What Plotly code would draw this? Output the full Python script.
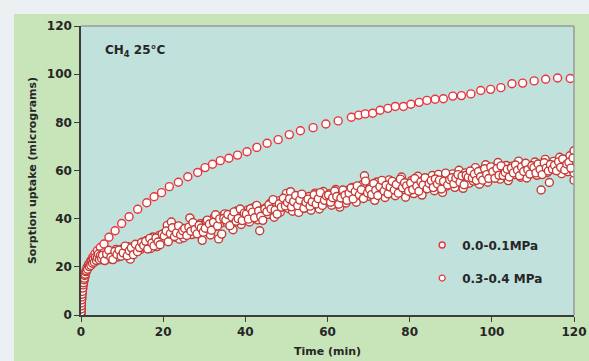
import plotly.graph_objects as go

# Series 1: 0.0-0.1 MPa
t1 = [0, 0.05, 0.1, 0.2, 0.3, 0.45, 0.6, 0.8, 1.0, 1.3, 1.6, 2.0, 2.4, 2.9, 3.4, 4.0, 4.7,
      5.6, 6.8, 8.3, 9.9, 11.7, 13.8, 16.0, 17.8, 19.6, 21.5, 23.7, 26.0, 28.4, 30.2, 32.0,
      33.9, 36.0, 38.1, 40.4, 42.8, 45.3, 48.0, 50.7, 53.4, 56.5, 59.6, 62.6, 65.8, 67.6,
      69.2, 71.0, 72.8, 74.7, 76.5, 78.5, 80.3, 82.3, 84.2, 86.2, 88.2, 90.5, 92.6, 94.9,
      97.3, 99.7, 102.2, 104.9, 107.5, 110.3, 113.1, 116.0, 119.1]
y1 = [0.5, 2.5, 4.5, 7.0, 9.0, 11.0, 12.8, 14.5, 16.0, 18.0, 19.5, 21.2, 22.6, 24.1, 25.4, 26.8, 28.0,
      29.5, 32.3, 35.0, 38.0, 40.8, 43.9, 46.6, 49.1, 50.8, 53.3, 55.1, 57.4, 59.2, 61.2, 62.6,
      64.1, 65.1, 66.4, 67.8, 69.6, 71.3, 72.8, 74.9, 76.5, 77.8, 79.3, 80.6, 82.1, 83.0,
      83.5, 83.8, 85.0, 85.8, 86.6, 86.6, 87.5, 88.3, 89.1, 89.6, 89.8, 90.9, 91.1, 91.8,
      93.2, 93.7, 94.4, 96.0, 96.3, 97.2, 97.9, 98.4, 98.2]

# Series 2: 0.3-0.4 MPa
t2_early = [0, 0, 0, 0.02, 0.05, 0.08, 0.1, 0.15, 0.2, 0.25, 0.3, 0.4, 0.5, 0.6, 0.7, 0.8, 0.9,
            1.0, 1.15, 1.3, 1.45, 1.6, 1.8, 2.0, 2.2, 2.4, 2.6, 2.8, 3.0, 3.25, 3.5, 3.75,
            4.0, 4.25, 4.5, 4.75]
y2_early = [0.0, 1.5, 2.7, 1.2, 2.5, 3.8, 5.0, 6.3, 7.5, 8.6, 9.8, 11.2, 12.5, 13.4, 14.6, 15.3, 16.4,
            16.9, 18.0, 18.4, 19.6, 19.0, 20.8, 20.1, 21.7, 20.6, 22.4, 21.5, 23.1, 21.9, 24.0, 22.6,
            23.8, 25.3, 22.9, 24.7]

t2_main = [5.0, 5.5, 6.0, 6.5, 7.0, 7.5, 8.0, 8.5, 9.0, 9.5,
           10.0, 10.5, 11.0, 11.5, 12.0, 12.5, 13.0, 13.5, 14.0, 14.5,
           15.0, 15.5, 16.0, 16.5, 17.0, 17.5, 18.0, 18.5, 19.0, 19.5,
           20.0, 20.5, 21.0, 21.5, 22.0, 22.5, 23.0, 23.5, 24.0, 24.5,
           25.0, 25.5, 26.0, 26.5, 27.0, 27.5, 28.0, 28.5, 29.0, 29.5,
           30.0, 30.5, 31.0, 31.5, 32.0, 32.5, 33.0, 33.5, 34.0, 34.5,
           35.0, 35.5, 36.0, 36.5, 37.0, 37.5, 38.0, 38.5, 39.0, 39.5,
           40.0, 40.5, 41.0, 41.5, 42.0, 42.5, 43.0, 43.5, 44.0, 44.5,
           45.0, 45.5, 46.0, 46.5, 47.0, 47.5, 48.0, 48.5, 49.0, 49.5,
           50.0, 50.5, 51.0, 51.5, 52.0, 52.5, 53.0, 53.5, 54.0, 54.5,
           55.0, 55.5, 56.0, 56.5, 57.0, 57.5, 58.0, 58.5, 59.0, 59.5,
           60.0, 60.5, 61.0, 61.5, 62.0, 62.5, 63.0, 63.5, 64.0, 64.5,
           65.0, 65.5, 66.0, 66.5, 67.0, 67.5, 68.0, 68.5, 69.0, 69.5,
           70.0, 70.5, 71.0, 71.5, 72.0, 72.5, 73.0, 73.5, 74.0, 74.5,
           75.0, 75.5, 76.0, 76.5, 77.0, 77.5, 78.0, 78.5, 79.0, 79.5,
           80.0, 80.5, 81.0, 81.5, 82.0, 82.5, 83.0, 83.5, 84.0, 84.5,
           85.0, 85.5, 86.0, 86.5, 87.0, 87.5, 88.0, 88.5, 89.0, 89.5,
           90.0, 90.5, 91.0, 91.5, 92.0, 92.5, 93.0, 93.5, 94.0, 94.5,
           95.0, 95.5, 96.0, 96.5, 97.0, 97.5, 98.0, 98.5, 99.0, 99.5,
           100.0, 100.5, 101.0, 101.5, 102.0, 102.5, 103.0, 103.5, 104.0, 104.5,
           105.0, 105.5, 106.0, 106.5, 107.0, 107.5, 108.0, 108.5, 109.0, 109.5,
           110.0, 110.5, 111.0, 111.5, 112.0, 112.5, 113.0, 113.5, 114.0, 114.5,
           115.0, 115.5, 116.0, 116.5, 117.0, 117.5, 118.0, 118.5, 119.0, 119.5,
           119.8, 120.0, 120.0, 120.0, 120.0]
y2_main = [23.5, 25.8, 22.9, 24.6, 26.1, 23.2, 25.0, 27.2, 24.1, 25.6,
           27.3, 24.9, 26.0, 28.4, 23.2, 25.5, 27.8, 26.9, 29.1, 27.2,
           30.2, 28.1, 31.0, 29.5, 27.6, 32.4, 30.8, 28.4, 33.0, 31.2,
           33.6, 31.0, 37.2, 34.5, 38.6, 35.1, 32.3, 33.0, 31.5, 36.0,
           32.1, 35.6, 34.3, 40.3, 33.4, 36.8, 37.5, 35.2, 37.9, 31.0,
           37.4, 38.9, 35.8, 33.2, 39.6, 40.8, 36.9, 31.6, 38.1, 41.2,
           42.0, 38.3, 40.5, 39.1, 35.4, 41.6, 43.3, 39.8, 37.6, 41.0,
           40.2, 43.5, 38.6, 42.1, 44.6, 41.3, 39.5, 35.0, 43.8, 42.4,
           44.5, 41.8, 46.3, 43.0, 40.6, 45.2, 47.4, 42.7, 44.9, 46.8,
           50.5, 44.2, 51.2, 43.1, 46.0, 48.9, 42.6, 45.8, 47.3, 44.5,
           45.9, 49.2, 43.5, 47.8, 50.6, 46.4, 44.0, 48.7, 51.3, 46.9,
           47.2, 50.4, 45.6, 49.0, 52.1, 47.9, 44.8, 50.9, 48.3, 46.5,
           51.8, 48.6, 53.0, 49.4, 46.8, 52.5, 50.1, 54.2, 57.8, 51.0,
           49.3, 53.8, 51.0, 47.6, 55.2, 52.4, 50.2, 54.0, 48.8, 52.9,
           56.1, 50.7, 53.4, 49.5, 54.8, 52.0, 57.3, 51.2, 48.9, 54.5,
           52.6, 55.9, 50.4, 54.1, 57.6, 53.0, 49.8, 56.3, 52.8, 55.4,
           53.7, 57.9, 51.6, 55.0, 58.4, 54.2, 50.9, 56.8, 53.5, 57.1,
           55.2, 58.6, 53.0, 57.4, 60.1, 55.8, 52.6, 59.0, 56.3, 54.7,
           58.9, 55.6, 61.2, 57.0, 54.3, 60.0, 57.8, 62.4, 55.1, 59.3,
           57.6, 61.0, 58.2, 63.3, 56.4, 60.2, 58.9, 62.1, 55.8, 59.7,
           61.8, 58.3, 60.6, 63.9, 57.2, 59.9, 62.6, 56.9, 61.3, 58.8,
           60.4, 63.5, 58.0, 61.9, 51.9, 60.7, 64.6, 59.2, 55.0, 62.3,
           63.8, 60.1, 62.9, 65.5, 58.7, 61.6, 64.0, 59.5, 66.1, 62.4,
           60.0, 68.2, 56.0, 64.5, 59.0]

t2_mid = [5.25, 5.75, 6.25, 6.75, 7.25, 7.75, 8.25, 8.75, 9.25, 9.75,
          10.25, 10.75, 11.25, 11.75, 12.25, 12.75, 13.25, 13.75, 14.25, 14.75,
          15.25, 15.75, 16.25, 16.75, 17.25, 17.75, 18.25, 18.75, 19.25, 19.75,
          20.25, 20.75, 21.25, 21.75, 22.25, 22.75, 23.25, 23.75, 24.25, 24.75,
          25.25, 25.75, 26.25, 26.75, 27.25, 27.75, 28.25, 28.75, 29.25, 29.75,
          30.25, 30.75, 31.25, 31.75, 32.25, 32.75, 33.25, 33.75, 34.25, 34.75,
          35.25, 35.75, 36.25, 36.75, 37.25, 37.75, 38.25, 38.75, 39.25, 39.75,
          40.25, 40.75, 41.25, 41.75, 42.25, 42.75, 43.25, 43.75, 44.25, 44.75,
          45.25, 45.75, 46.25, 46.75, 47.25, 47.75, 48.25, 48.75, 49.25, 49.75,
          50.25, 50.75, 51.25, 51.75, 52.25, 52.75, 53.25, 53.75, 54.25, 54.75,
          55.25, 55.75, 56.25, 56.75, 57.25, 57.75, 58.25, 58.75, 59.25, 59.75,
          60.25, 60.75, 61.25, 61.75, 62.25, 62.75, 63.25, 63.75, 64.25, 64.75,
          65.25, 65.75, 66.25, 66.75, 67.25, 67.75, 68.25, 68.75, 69.25, 69.75,
          70.25, 70.75, 71.25, 71.75, 72.25, 72.75, 73.25, 73.75, 74.25, 74.75,
          75.25, 75.75, 76.25, 76.75, 77.25, 77.75, 78.25, 78.75, 79.25, 79.75,
          80.25, 80.75, 81.25, 81.75, 82.25, 82.75, 83.25, 83.75, 84.25, 84.75,
          85.25, 85.75, 86.25, 86.75, 87.25, 87.75, 88.25, 88.75, 89.25, 89.75,
          90.25, 90.75, 91.25, 91.75, 92.25, 92.75, 93.25, 93.75, 94.25, 94.75,
          95.25, 95.75, 96.25, 96.75, 97.25, 97.75, 98.25, 98.75, 99.25, 99.75,
          100.25, 100.75, 101.25, 101.75, 102.25, 102.75, 103.25, 103.75, 104.25, 104.75,
          105.25, 105.75, 106.25, 106.75, 107.25, 107.75, 108.25, 108.75, 109.25, 109.75,
          110.25, 110.75, 111.25, 111.75, 112.25, 112.75, 113.25, 113.75, 114.25, 114.75,
          115.25, 115.75, 116.25, 116.75, 117.25, 117.75, 118.25, 118.75, 119.25, 119.75]
y2_mid = [24.8, 22.6, 25.3, 26.9, 24.0, 23.0, 26.4, 25.1, 27.0, 24.4,
          25.8, 28.6, 24.6, 26.7, 27.9, 25.0, 29.4, 26.3, 28.0, 30.1,
          28.9, 30.6, 27.4, 31.8, 29.9, 28.7, 32.0, 30.3, 29.2, 33.5,
          32.8, 34.9, 30.4, 33.8, 36.2, 32.6, 34.1, 37.0, 33.3, 35.0,
          35.9, 33.0, 36.5, 34.8, 38.4, 35.5, 33.7, 37.2, 36.1, 34.4,
          36.0, 39.4, 37.8, 35.2, 38.5, 41.6, 37.0, 39.9, 33.6, 40.1,
          39.4, 41.7, 37.1, 40.6, 42.8, 38.9, 40.0, 44.0, 39.2, 42.3,
          41.9, 39.8, 44.1, 42.7, 40.4, 45.5, 43.2, 41.0, 39.3, 44.0,
          42.9, 45.8, 44.0, 47.9, 43.6, 41.9, 46.2, 44.8, 48.5, 45.3,
          46.7, 48.2, 44.9, 47.1, 49.6, 45.4, 47.7, 50.2, 44.3, 46.8,
          48.1, 45.2, 47.0, 49.9, 46.1, 48.3, 50.8, 45.5, 47.6, 49.4,
          49.8, 46.8, 48.7, 51.5, 49.2, 46.0, 48.6, 51.9, 49.7, 47.6,
          50.6, 52.7, 48.2, 51.3, 53.6, 49.9, 52.0, 48.4, 55.6, 50.7,
          52.2, 50.0, 54.6, 51.8, 49.6, 53.3, 55.9, 51.5, 53.9, 50.3,
          53.1, 55.5, 51.9, 54.2, 50.6, 56.4, 52.8, 54.9, 53.6, 51.4,
          54.8, 52.0, 56.7, 53.5, 51.4, 55.3, 54.0, 57.0, 52.4, 54.6,
          55.8, 52.9, 56.5, 54.4, 56.0, 52.3, 55.5, 58.9, 54.0, 56.2,
          57.0, 54.5, 56.8, 58.3, 55.1, 57.7, 54.1, 58.0, 57.2, 59.8,
          56.9, 58.5, 55.9, 59.6, 57.4, 56.0, 60.7, 58.3, 56.7, 61.5,
          59.5, 56.8, 60.8, 58.0, 61.9, 57.9, 59.2, 60.5, 57.3, 61.0,
          59.0, 62.3, 60.1, 57.8, 61.5, 59.6, 63.0, 60.3, 58.5, 62.0,
          61.2, 59.0, 62.7, 60.4, 58.3, 63.2, 61.0, 59.8, 62.5, 60.6,
          62.2, 59.9, 63.6, 61.3, 64.8, 60.2, 62.7, 63.4, 61.0, 65.2]

t2 = t2_early + t2_main + t2_mid
y2 = y2_early + y2_main + y2_mid

x_ticks = [0, 20, 40, 60, 80, 100, 120]
y_ticks = [0, 20, 40, 60, 80, 100, 120]

FONT = "Verdana, DejaVu Sans, sans-serif"
TXT = "#262626"
C1 = "#e8343c"
C2 = "#c53a35"

fig = go.Figure()
fig.add_trace(go.Scatter(
    x=t1, y=y1, mode="markers", name="0.0-0.1MPa", showlegend=False,
    marker=dict(symbol="circle", size=8, color="white", line=dict(color=C1, width=1.4)),
))
fig.add_trace(go.Scatter(
    x=t2, y=y2, mode="markers", name="0.3-0.4 MPa", showlegend=False,
    marker=dict(symbol="circle", size=8, color="white", line=dict(color=C2, width=1.4)),
))
# legend entries (smaller symbols, as in the reference legend)
fig.add_trace(go.Scatter(
    x=[None], y=[None], mode="markers", name="0.0-0.1MPa", legendgroup="a",
    marker=dict(symbol="circle", size=6, color="white", line=dict(color=C1, width=1.4)),
))
fig.add_trace(go.Scatter(
    x=[None], y=[None], mode="markers", name="0.3-0.4 MPa", legendgroup="b",
    marker=dict(symbol="circle", size=6, color="white", line=dict(color=C1, width=1.2)),
))

fig.update_layout(
    width=589, height=361,
    margin=dict(l=81, r=15, t=26, b=46),
    paper_bgcolor="#c8e4b9",
    plot_bgcolor="#c1e1dd",
    font=dict(family=FONT, size=12, color=TXT),
    showlegend=True,
    legend=dict(
        x=0.692, y=0.185, xanchor="left", yanchor="middle",
        bgcolor="rgba(0,0,0,0)", borderwidth=0,
        font=dict(family=FONT, size=12, color=TXT, weight="bold"),
        tracegroupgap=14, itemwidth=30,
    ),
    xaxis=dict(
        range=[0, 120], tickvals=x_ticks, ticktext=[str(v) for v in x_ticks],
        showgrid=False, zeroline=False, automargin=False,
        showline=True, linecolor="#3d3d3d", linewidth=1.5,
        ticks="outside", ticklen=5, tickwidth=1, tickcolor="#3d3d3d",
        tickfont=dict(family=FONT, size=12, color=TXT, weight="bold"),
        title=dict(text="Time (min)", standoff=9,
                   font=dict(family=FONT, size=11, color=TXT, weight="bold")),
    ),
    yaxis=dict(
        range=[0, 120], tickvals=y_ticks, ticktext=[str(v) for v in y_ticks],
        showgrid=False, zeroline=False, automargin=False,
        showline=True, linecolor="#3d3d3d", linewidth=1.5,
        ticks="outside", ticklen=5, tickwidth=1, tickcolor="#3d3d3d",
        tickfont=dict(family=FONT, size=12, color=TXT, weight="bold"),
        title=dict(text="Sorption uptake (micrograms)", standoff=8,
                   font=dict(family=FONT, size=11, color=TXT, weight="bold")),
    ),
    shapes=[
        dict(type="rect", xref="paper", yref="paper", x0=-0.2, x1=1.1, y0=1.0 + 12 / 289, y1=1.2,
             fillcolor="#edf0f2", line=dict(width=0), layer="above"),
        dict(type="rect", xref="paper", yref="paper", x0=-0.2, x1=-67 / 493, y0=-0.3, y1=1.2,
             fillcolor="#edf0f2", line=dict(width=0), layer="above"),
        dict(type="line", xref="paper", yref="paper", x0=0, x1=1, y0=1, y1=1,
             line=dict(color="#9a9a9a", width=1.5)),
        dict(type="line", xref="paper", yref="paper", x0=1, x1=1, y0=0, y1=1,
             line=dict(color="#9a9a9a", width=1.5)),
    ],
    annotations=[
        dict(text="<b>CH<sub>4</sub> 25°C</b>", xref="paper", yref="paper",
             x=22 / 493, y=1 - 25 / 289, xanchor="left", yanchor="middle",
             showarrow=False, font=dict(family=FONT, size=12, color=TXT)),
    ],
)

fig.write_html("out.html", config={"displayModeBar": False},
               post_script="document.body.style.margin='0';")
